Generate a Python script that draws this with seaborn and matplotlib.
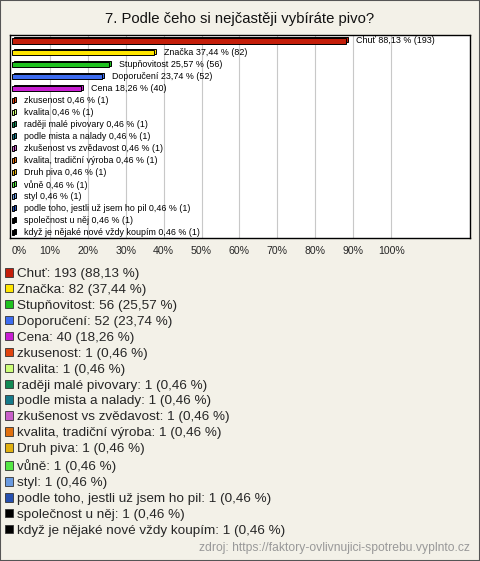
import matplotlib
matplotlib.use('AGG')
import matplotlib.pyplot as plt
import matplotlib.transforms as mtransforms
from matplotlib.patches import Patch, Rectangle
import seaborn as sns
import pandas as pd

labels = ['Chuť', 'Značka', 'Stupňovitost', 'Doporučení', 'Cena', 'zkusenost', 'kvalita',
          'raději malé pivovary', 'podle mista a nalady', 'zkušenost vs zvědavost',
          'kvalita, tradiční výroba', 'Druh piva', 'vůně', 'styl',
          'podle toho, jestli už jsem ho pil', 'společnost u něj',
          'když je nějaké nové vždy koupím']
counts = [193, 82, 56, 52, 40, 1, 1, 1, 1, 1, 1, 1, 1, 1, 1, 1, 1]
percents = [88.13, 37.44, 25.57, 23.74, 18.26, 0.46, 0.46, 0.46, 0.46, 0.46,
            0.46, 0.46, 0.46, 0.46, 0.46, 0.46, 0.46]
colors = ['#c41e0a', '#ffe600', '#1fc21f', '#3d6cf0', '#c81ed2', '#e0440f', '#ccff77',
          '#128a55', '#157a8a', '#c95fc9', '#e0700f', '#e0b00f', '#55e844', '#6a9ae0',
          '#2650b0', '#000000', '#000000']
ticks = [0, 10, 20, 30, 40, 50, 60, 70, 80, 90, 100]

def fmt(v):
    return ('%.2f' % v).replace('.', ',')

df = pd.DataFrame({'label': labels, 'pct': percents})

sns.set_style('white')
plt.rcParams['font.family'] = ['Liberation Sans', 'DejaVu Sans']

bg = '#f3f1e8'
fig = plt.figure(figsize=(4.8, 5.61), dpi=100, facecolor=bg)
fig.add_artist(Rectangle((0, 0), 1, 1, transform=fig.transFigure, fill=False,
                         edgecolor='#555555', linewidth=1.5))

ax = fig.add_axes([10 / 480, 1 - 238 / 561, 460 / 480, 203 / 561])
ax.set_facecolor('white')

sns.barplot(data=df, x='pct', y='label', hue='label', palette=colors, legend=False,
            orient='h', width=0.42, edgecolor='black', linewidth=0.7, ax=ax,
            saturation=1)

# 3D look: a copy of each bar, shifted up/right, drawn behind it
shift = mtransforms.ScaledTranslation(2 / 100, 1.5 / 100, fig.dpi_scale_trans)
for p in list(ax.patches):
    back = Rectangle((p.get_x(), p.get_y()), p.get_width(), p.get_height(),
                     facecolor=p.get_facecolor(), edgecolor='black', linewidth=0.7,
                     transform=ax.transData + shift, zorder=2)
    ax.add_artist(back)
    p.set_zorder(3)

for i, (lab, v, c) in enumerate(zip(labels, percents, counts)):
    ax.text(v + 2.6, i, '%s %s %% (%d)' % (lab, fmt(v), c), va='center', ha='left',
            fontsize=6.4, color='black', zorder=4)

ax.set_xlim(-0.5, 120.8)
ax.set_ylim(16.45, -0.5)
ax.set_xticks(ticks)
ax.set_xticklabels(['%d%%' % t for t in ticks], fontsize=7.6)
ax.get_xticklabels()[0].set_ha('left')
ax.tick_params(axis='x', length=0, pad=6)
ax.set_yticks([])
ax.set_xlabel('')
ax.set_ylabel('')
for t in ticks[1:]:
    ax.axvline(t, color='#c8c8c8', linewidth=0.8, zorder=0)
for s in ax.spines.values():
    s.set_visible(True)
    s.set_color('black')
    s.set_linewidth(1)

fig.text(0.5, 1 - 19 / 561, '7. Podle čeho si nejčastěji vybíráte pivo?',
         ha='center', va='center', fontsize=10.7, color='#111111')

handles = [Patch(facecolor=c, edgecolor='#333333', linewidth=0.6) for c in colors]
leg_labels = ['%s: %d (%s %%)' % (l, c, fmt(v)) for l, c, v in zip(labels, counts, percents)]
fig.legend(handles, leg_labels, loc='upper left', bbox_to_anchor=(5 / 480, 1 - 268 / 561),
           frameon=False, fontsize=9.7, handlelength=0.6, handleheight=0.6,
           handletextpad=0.3, labelspacing=0.29, borderaxespad=0, borderpad=0)

fig.text(470 / 480, 1 - 548 / 561, 'zdroj: https://faktory-ovlivnujici-spotrebu.vyplnto.cz',
         ha='right', va='center', fontsize=8.7, color='#999999')

plt.savefig('out.png', dpi=100, facecolor=bg)
